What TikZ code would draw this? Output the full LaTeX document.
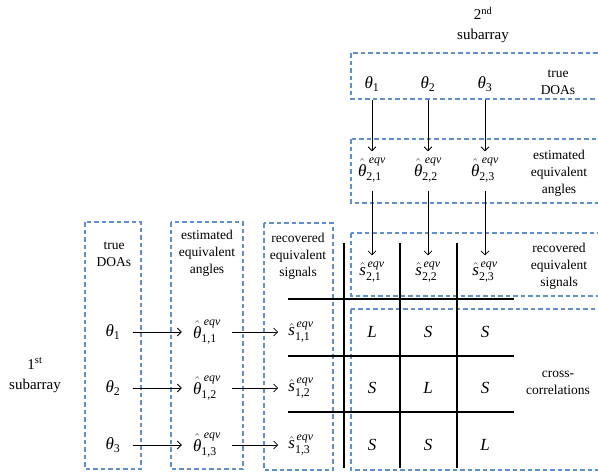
\RequirePackage{fix-cm}
\documentclass[tikz,border=0pt]{standalone}
\usepackage{amsmath}
\usepackage{fontspec}
\setmainfont{Liberation Serif}
\usetikzlibrary{arrows.meta}
\definecolor{dblue}{RGB}{95,145,210}
\newcommand{\mytheta}{\textit{θ}}
\newcommand{\raisedth}{\raisebox{0pt}[\dimexpr\height+1.5pt\relax]{\textit{θ}}}
\newcommand{\hth}[1]{{\hat{\raisedth}}^{\hspace{2.5pt}\textit{eqv}}_{\text{#1}}}
\newcommand{\hs}[1]{{\hat{\textit{s}}}^{\hspace{1.5pt}\textit{eqv}}_{\text{#1}}}
\begin{document}
\begin{tikzpicture}[x=1pt,y=-1pt,
 dbox/.style={draw=dblue, line width=1.1pt, dash pattern=on 4.5pt off 3pt},
 lbl/.style={align=center, font=\fontsize{13.5}{17}\selectfont, inner sep=0pt},
 sublbl/.style={align=center, font=\fontsize{15}{20}\selectfont, inner sep=0pt},
 sym/.style={font=\fontsize{17}{19}\selectfont, inner sep=0pt},
 gridline/.style={line width=1.6pt},
 arr/.style={line width=0.8pt, -{Straight Barb[length=4pt,width=8pt]}}]
\useasboundingbox (0,0) rectangle (598,474);
% dashed boxes
\draw[dbox] (85,222) rectangle (141,469);
\draw[dbox] (171,222) rectangle (243,469);
\draw[dbox] (264,223) rectangle (333,470);
\draw[dbox] (351,53) rectangle (612,99);
\draw[dbox] (351,139) rectangle (612,203);
\draw[dbox] (351,233) rectangle (612,296);
\draw[dbox] (351,309) rectangle (612,470);
% grid
\foreach \x in {344,400,457} \draw[gridline] (\x,243) -- (\x,468);
\foreach \y in {299,356,412} \draw[gridline] (288,\y) -- (514,\y);
% labels
\node[sublbl] (sub2) at (483,25) {2\textsuperscript{nd}\\subarray};
\node[sublbl] (sub1) at (35,375) {1\textsuperscript{st}\\subarray};
\node[lbl] (ltrue) at (114,254) {true\\DOAs};
\node[lbl] (lest) at (207,253) {estimated\\equivalent\\angles};
\node[lbl] (lrec) at (298,256) {recovered\\equivalent\\signals};
\node[lbl] (rtrue) at (558,82) {true\\DOAs};
\node[lbl] (rest) at (559,173) {estimated\\equivalent\\angles};
\node[lbl] (rrec) at (559,266) {recovered\\equivalent\\signals};
\node[lbl] (rcc) at (558,383) {cross-\\correlations};
% left column symbols
\foreach \i/\y in {1/332,2/388,3/445} {
  \node[sym] (t\i) at (113,\y) {$\mytheta_{\text{\i}}$};
  \node[sym] (e\i) at (207,\y) {$\hth{1,\i}$};
  \node[sym] (s\i) at (301,\y) {$\hs{1,\i}$};
  \draw[arr, shorten <=12pt, shorten >=11pt] (t\i) -- (e\i);
  \draw[arr, shorten <=11pt, shorten >=10pt] (e\i) -- (s\i);
}
% top row symbols
\foreach \i/\x in {1/372,2/428,3/485} {
  \node[sym] (tt\i) at (\x,84) {$\mytheta_{\text{\i}}$};
  \node[sym] (te\i) at (\x,170) {$\hth{2,\i}$};
  \node[sym] (ts\i) at (\x,272) {$\hs{2,\i}$};
  \draw[arr, shorten <=9pt, shorten >=6pt] (tt\i) -- (te\i);
  \draw[arr, shorten <=8pt, shorten >=6pt] (te\i) -- (ts\i);
}
% cross-correlation cells
\node[sym] (c11) at (372,332) {\textit{L}};
\node[sym] (c12) at (428,332) {\textit{S}};
\node[sym] (c13) at (485,332) {\textit{S}};
\node[sym] (c21) at (372,388) {\textit{S}};
\node[sym] (c22) at (428,388) {\textit{L}};
\node[sym] (c23) at (485,388) {\textit{S}};
\node[sym] (c31) at (372,445) {\textit{S}};
\node[sym] (c32) at (428,445) {\textit{S}};
\node[sym] (c33) at (485,445) {\textit{L}};
\end{tikzpicture}
\end{document}
